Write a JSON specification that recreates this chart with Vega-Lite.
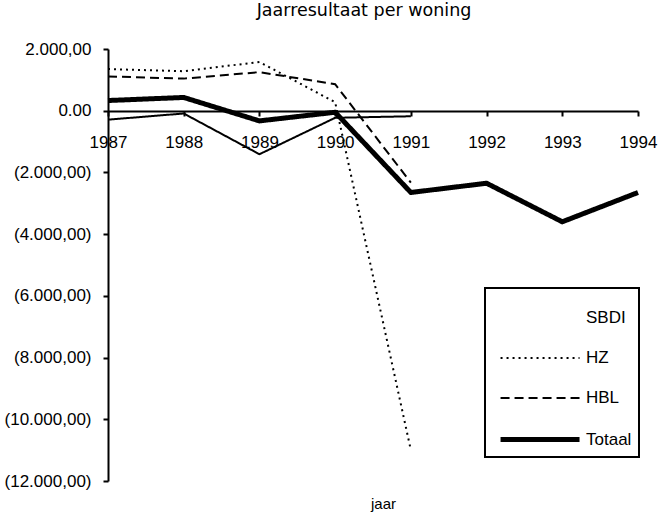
{
  "$schema": "https://vega.github.io/schema/vega-lite/v6.json",
  "width": 530,
  "height": 432,
  "autosize": "none",
  "padding": {"left": 108, "top": 49, "right": 20, "bottom": 38},
  "background": "white",
  "title": {
    "text": "Jaarresultaat per woning",
    "font": "DejaVu Sans",
    "fontSize": 17.5,
    "fontWeight": "normal",
    "color": "black",
    "anchor": "middle",
    "dx": -9,
    "baseline": "alphabetic",
    "offset": 7
  },
  "config": {"view": {"stroke": null}, "axis": {"ticks": true, "tickColor": "black", "tickWidth": 2, "tickOpacity": 1}},
  "data": {
    "values": [
      {"reeks": "SBDI", "jaar": 1987, "resultaat": -290},
      {"reeks": "SBDI", "jaar": 1988, "resultaat": -90},
      {"reeks": "SBDI", "jaar": 1989, "resultaat": -1410},
      {"reeks": "SBDI", "jaar": 1990, "resultaat": -230},
      {"reeks": "SBDI", "jaar": 1991, "resultaat": -180},
      {"reeks": "HZ", "jaar": 1987, "resultaat": 1350},
      {"reeks": "HZ", "jaar": 1988, "resultaat": 1280},
      {"reeks": "HZ", "jaar": 1989, "resultaat": 1580},
      {"reeks": "HZ", "jaar": 1990, "resultaat": 275},
      {"reeks": "HZ", "jaar": 1991, "resultaat": -11000},
      {"reeks": "HBL", "jaar": 1987, "resultaat": 1110},
      {"reeks": "HBL", "jaar": 1988, "resultaat": 1040},
      {"reeks": "HBL", "jaar": 1989, "resultaat": 1250},
      {"reeks": "HBL", "jaar": 1990, "resultaat": 860},
      {"reeks": "HBL", "jaar": 1991, "resultaat": -2330},
      {"reeks": "Totaal", "jaar": 1987, "resultaat": 330},
      {"reeks": "Totaal", "jaar": 1988, "resultaat": 430},
      {"reeks": "Totaal", "jaar": 1989, "resultaat": -330},
      {"reeks": "Totaal", "jaar": 1990, "resultaat": -50},
      {"reeks": "Totaal", "jaar": 1991, "resultaat": -2650},
      {"reeks": "Totaal", "jaar": 1992, "resultaat": -2350},
      {"reeks": "Totaal", "jaar": 1993, "resultaat": -3600},
      {"reeks": "Totaal", "jaar": 1994, "resultaat": -2650}
    ]
  },
  "mark": {"type": "line", "color": "black", "strokeCap": "butt", "strokeJoin": "miter"},
  "encoding": {
    "x": {
      "field": "jaar",
      "type": "quantitative",
      "scale": {"domain": [1987, 1994], "nice": false, "zero": false},
      "axis": {
        "title": "jaar",
        "values": [1987, 1988, 1989, 1990, 1991, 1992, 1993, 1994],
        "format": "d",
        "offset": -370,
        "grid": false,
        "domainColor": "black",
        "domainWidth": 2,
        "ticks": true,
        "tickColor": "black",
        "tickOpacity": 1,
        "tickWidth": 2,
        "tickSize": 5,
        "labelPadding": 18,
        "labelFont": "Liberation Sans",
        "labelFontSize": 17,
        "labelColor": "black",
        "labelFlush": false,
        "labelOverlap": false,
        "titleFont": "Liberation Sans",
        "titleFontSize": 15,
        "titleFontWeight": "normal",
        "titleColor": "black",
        "titleX": 275,
        "titleY": 397,
        "titleBaseline": "alphabetic",
        "encode": {"ticks": {"update": {"y": {"value": -5}, "opacity": {"value": 1}}}}
      }
    },
    "y": {
      "field": "resultaat",
      "type": "quantitative",
      "scale": {"domain": [-12000, 2000], "nice": false, "zero": false},
      "axis": {
        "title": null,
        "values": [-12000, -10000, -8000, -6000, -4000, -2000, 0, 2000],
        "labelExpr": "datum.value == 0 ? '0.00\u00a0\u00a0' : (datum.value > 0 ? format(datum.value/1000, 'd') + '.000,00\u00a0\u00a0' : '(' + format(-datum.value/1000, 'd') + '.000,00)')",
        "grid": false,
        "domainColor": "black",
        "domainWidth": 2,
        "ticks": true,
        "tickColor": "black",
        "tickOpacity": 1,
        "tickWidth": 2,
        "tickSize": 5,
        "labelPadding": 12,
        "labelFont": "Liberation Sans",
        "labelFontSize": 17,
        "labelColor": "black",
        "labelOverlap": false,
        "encode": {"ticks": {"update": {"x": {"value": 5}, "opacity": {"value": 1}}}}
      }
    },
    "strokeDash": {
      "field": "reeks",
      "type": "nominal",
      "scale": {"domain": ["SBDI", "HZ", "HBL", "Totaal"], "range": [[1, 0], [2, 4], [9, 5], [1, 0]]},
      "legend": {
        "title": " ",
        "titleFontSize": 1,
        "titlePadding": 10,
        "orient": "none",
        "legendX": 377,
        "legendY": 239,
        "direction": "vertical",
        "padding": 7,
        "rowPadding": 20,
        "symbolType": "M-0.45,0H6.73",
        "symbolSize": 484,
        "symbolStrokeColor": "black",
        "labelOffset": 67,
        "labelFont": "Liberation Sans",
        "labelFontSize": 17,
        "labelColor": "black",
        "strokeColor": "black",
        "encode": {
          "symbols": {"update": {"strokeOpacity": {"signal": "datum.value === 'SBDI' ? 0 : 1"}}},
          "legend": {"update": {"strokeWidth": {"value": 2}}}
        }
      }
    },
    "strokeWidth": {
      "field": "reeks",
      "type": "nominal",
      "scale": {"type": "ordinal", "domain": ["SBDI", "HZ", "HBL", "Totaal"], "range": [2, 2, 2, 5]},
      "legend": {
        "title": " ",
        "titleFontSize": 1,
        "titlePadding": 10,
        "orient": "none",
        "legendX": 377,
        "legendY": 239,
        "direction": "vertical",
        "padding": 7,
        "rowPadding": 20,
        "symbolType": "M-0.45,0H6.73",
        "symbolSize": 484,
        "symbolStrokeColor": "black",
        "labelOffset": 67,
        "labelFont": "Liberation Sans",
        "labelFontSize": 17,
        "labelColor": "black",
        "strokeColor": "black",
        "encode": {
          "symbols": {"update": {"strokeOpacity": {"signal": "datum.value === 'SBDI' ? 0 : 1"}}},
          "legend": {"update": {"strokeWidth": {"value": 2}}}
        }
      }
    }
  }
}
